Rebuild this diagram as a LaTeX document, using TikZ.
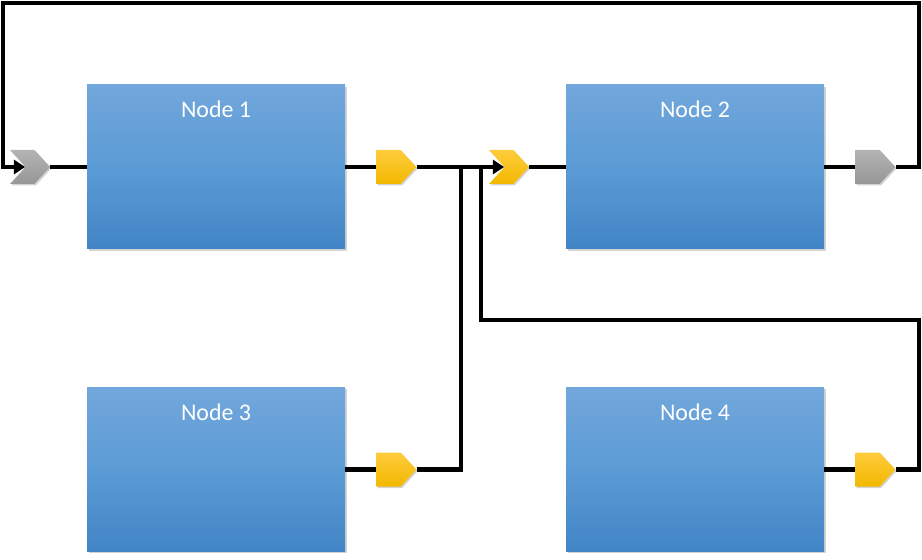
\documentclass[tikz,border=0pt]{standalone}
\usepackage{fontspec}
\setsansfont{Carlito}
\usepackage{tikz}
\usetikzlibrary{shapes.symbols, arrows.meta, positioning, calc, shadows}
\definecolor{boxTop}{RGB}{114, 167, 220}
\definecolor{boxMid}{RGB}{91, 155, 213}
\definecolor{boxBot}{RGB}{66, 133, 198}
\definecolor{portYellowTop}{RGB}{255, 204, 60}
\definecolor{portYellowBot}{RGB}{242, 184, 0}
\definecolor{portGrayTop}{RGB}{180, 180, 180}
\definecolor{portGrayBot}{RGB}{150, 150, 150}

\begin{document}
\begin{tikzpicture}[
    block/.style={rectangle, minimum width=6.45cm, minimum height=4.1cm, inner sep=0pt,
        top color=boxTop, bottom color=boxBot, middle color=boxMid,
        drop shadow={opacity=0.35, shadow xshift=1.2pt, shadow yshift=-1.2pt}},
    boxtext/.style={anchor=center, yshift=-0.625cm, text=white, font=\sffamily\fontsize{17}{19}\selectfont},
    outport/.style={signal, signal to=east, signal pointer angle=95, minimum width=1cm,
        minimum height=0.85cm, inner sep=0pt, anchor=west,
        drop shadow={opacity=0.35, shadow xshift=1pt, shadow yshift=-1pt}},
    inport/.style={outport, signal from=west, anchor=center},
    yellow/.style={top color=portYellowTop, bottom color=portYellowBot},
    gray/.style={top color=portGrayTop, bottom color=portGrayBot},
    wire/.style={line width=3.3pt, black},
    arrowwire/.style={wire, -{Triangle[length=8pt, width=10pt]}}
]
    \useasboundingbox (0,0) rectangle (23.05,14);

    % Nodes
    \node[block, label={[boxtext]north:Node 1}] (n1) at (5.4, 9.825) {};
    \node[block, label={[boxtext]north:Node 2}] (n2) at (17.375, 9.825) {};
    \node[block, label={[boxtext]north:Node 3}] (n3) at (5.4, 2.26) {};
    \node[block, label={[boxtext]north:Node 4}] (n4) at (17.375, 2.26) {};

    % Ports
    \node[inport, gray] (in1) at (0.75, 9.825) {};
    \node[outport, yellow] (out1) at (9.4, 9.825) {};
    \node[inport, yellow] (in2) at (12.725, 9.825) {};
    \node[outport, gray] (out2) at (21.375, 9.825) {};
    \node[outport, yellow] (out3) at (9.4, 2.26) {};
    \node[outport, yellow] (out4) at (21.375, 2.26) {};

    % Bends
    \coordinate (topR) at (22.975, 13.925);
    \coordinate (topL) at (0.075, 13.925);
    \coordinate (j1) at (11.525, 9.825);
    \coordinate (j2) at (12.025, 9.825);
    \coordinate (r4) at (22.975, 6.0);

    % Connections
    \draw[wire] (in1.east) -- (n1.west);
    \draw[wire] (n1.east) -- (out1.west);
    \draw[wire] (in2.east) -- (n2.west);
    \draw[wire] (n2.east) -- (out2.west);
    \draw[wire] (n3.east) -- (out3.west);
    \draw[wire] (n4.east) -- (out4.west);
    \draw[arrowwire] (out1.east) -- (in2.west);
    \draw[wire] (out3.east) -| (j1);
    \draw[wire] (out4.east) -| (r4) -| (j2);
    \draw[arrowwire] (out2.east) -| (topR) -- (topL) |- (in1.west);
\end{tikzpicture}
\end{document}
